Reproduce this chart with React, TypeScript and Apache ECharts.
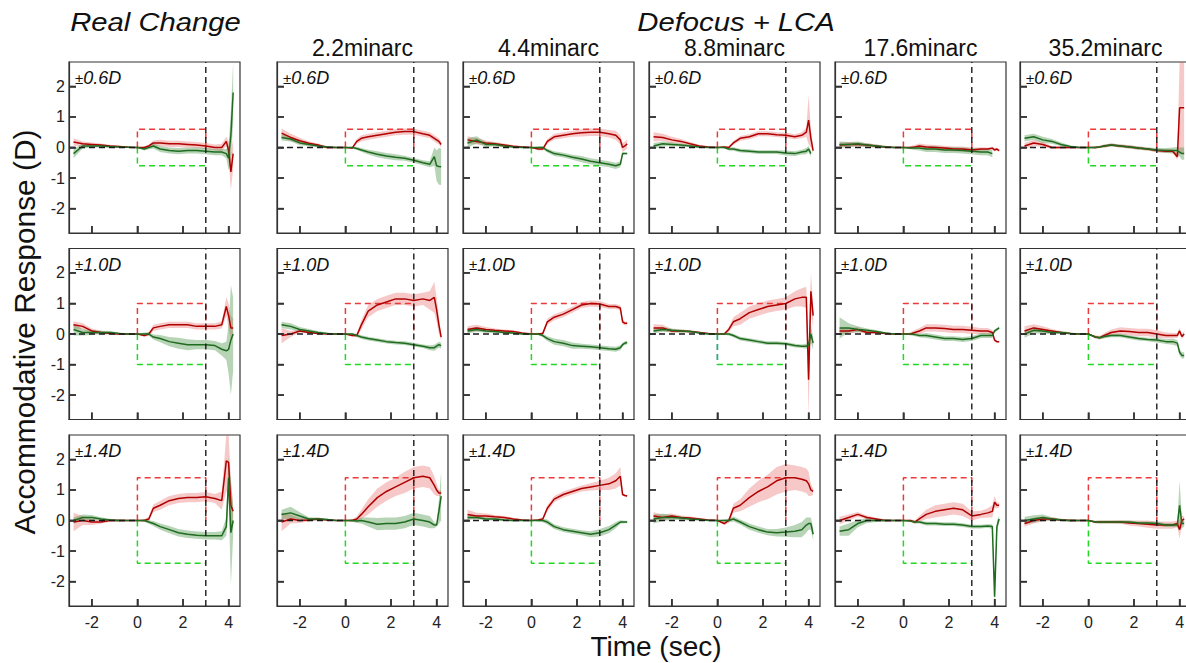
import React, { useEffect, useRef } from "react";
import * as echarts from "echarts";

// time samples (s)
const T = [-2.8, -2.4, -2.0, -1.6, -1.2, -0.8, -0.4, 0, 0.3, 0.5, 0.7, 1.0, 1.4, 1.8, 2.2, 2.6, 3.0, 3.4, 3.7, 3.9, 4.0, 4.1, 4.2];

const ROW_D = [0.6, 1.0, 1.4];
const ROW_LABELS = ["0.6D", "1.0D", "1.4D"];
const COL_TITLES = ["", "2.2minarc", "4.4minarc", "8.8minarc", "17.6minarc", "35.2minarc"];
const X_TICKS = [-2, 0, 2, 4];
const Y_TICKS = [-2, -1, 0, 1, 2];

// Row 0 (±0.6D)
const R00 = [0.18, 0.12, 0.10, 0.08, 0.05, 0.03, 0.01, 0, 0.0, 0.05, 0.15, 0.15, 0.12, 0.12, 0.10, 0.08, 0.05, 0.0, 0.0, 0.2, -0.1, -0.8, -0.2];
const R00sd = [0.12, 0.08, 0.06, 0.05, 0.04, 0.03, 0.02, 0, 0.03, 0.05, 0.08, 0.1, 0.1, 0.1, 0.1, 0.1, 0.1, 0.1, 0.12, 0.15, 0.3, 0.6, 0.5];
const G00 = [-0.2, 0.05, 0.05, 0.05, 0.03, 0.02, 0.01, 0, -0.05, 0.0, 0.05, -0.05, -0.1, -0.12, -0.1, -0.1, -0.12, -0.15, -0.15, -0.2, -0.35, 0.4, 1.8];
const G00sd = [0.15, 0.08, 0.05, 0.05, 0.04, 0.03, 0.02, 0, 0.05, 0.06, 0.08, 0.1, 0.1, 0.1, 0.1, 0.1, 0.1, 0.1, 0.1, 0.15, 0.4, 0.8, 1.0];

const R01 = [0.47, 0.33, 0.22, 0.14, 0.08, 0.0, 0.0, 0, -0.02, 0.2, 0.3, 0.35, 0.4, 0.45, 0.5, 0.52, 0.52, 0.45, 0.4, 0.3, 0.25, 0.2, 0.1];
const R01sd = [0.15, 0.12, 0.1, 0.06, 0.05, 0.04, 0.02, 0, 0.04, 0.08, 0.1, 0.1, 0.1, 0.1, 0.1, 0.1, 0.1, 0.1, 0.1, 0.1, 0.1, 0.1, 0.1];
const G01 = [0.33, 0.28, 0.15, 0.1, 0.05, 0.02, 0.0, 0, 0.0, -0.03, -0.08, -0.15, -0.22, -0.28, -0.32, -0.35, -0.42, -0.5, -0.55, -0.3, -0.6, -0.62, -0.63];
const G01sd = [0.1, 0.08, 0.08, 0.06, 0.05, 0.03, 0.02, 0, 0.03, 0.05, 0.06, 0.08, 0.1, 0.1, 0.1, 0.08, 0.08, 0.08, 0.1, 0.3, 0.5, 0.6, 0.6];

const R02 = [0.25, 0.2, 0.15, 0.12, 0.08, 0.04, 0.02, 0, -0.05, -0.05, 0.2, 0.35, 0.4, 0.45, 0.48, 0.5, 0.5, 0.45, 0.4, 0.25, 0.0, 0.05, 0.12];
const R02sd = [0.12, 0.1, 0.08, 0.06, 0.05, 0.04, 0.02, 0, 0.05, 0.05, 0.08, 0.1, 0.1, 0.1, 0.12, 0.12, 0.12, 0.12, 0.15, 0.15, 0.15, 0.15, 0.15];
const G02 = [0.15, 0.25, 0.1, 0.1, 0.05, 0.02, 0.0, 0, 0.0, 0.0, -0.1, -0.2, -0.25, -0.32, -0.38, -0.45, -0.5, -0.55, -0.6, -0.55, -0.2, -0.2, -0.2];
const G02sd = [0.15, 0.12, 0.08, 0.06, 0.05, 0.03, 0.02, 0, 0.03, 0.05, 0.06, 0.08, 0.08, 0.08, 0.1, 0.1, 0.1, 0.1, 0.1, 0.1, 0.05, 0.03, 0.03];

const R03 = [0.35, 0.33, 0.25, 0.2, 0.12, 0.05, 0.02, 0, 0.02, 0.0, 0.15, 0.3, 0.35, 0.45, 0.45, 0.42, 0.4, 0.35, 0.4, 0.5, 0.9, 0.3, -0.1];
const R03sd = [0.15, 0.12, 0.1, 0.08, 0.06, 0.04, 0.02, 0, 0.03, 0.05, 0.06, 0.08, 0.08, 0.08, 0.08, 0.08, 0.08, 0.08, 0.1, 0.15, 0.8, 0.3, 0.1];
const G03 = [0.05, 0.12, 0.1, 0.08, 0.05, 0.02, 0.0, 0, 0.0, -0.05, -0.05, -0.1, -0.12, -0.15, -0.15, -0.15, -0.18, -0.2, -0.15, -0.12, -0.05, -0.2, null];
const G03sd = [0.1, 0.08, 0.06, 0.05, 0.04, 0.03, 0.02, 0, 0.03, 0.05, 0.06, 0.06, 0.06, 0.06, 0.06, 0.06, 0.08, 0.08, 0.08, 0.1, 0.1, 0.1, null];

const R04 = [0.08, 0.1, 0.1, 0.08, 0.05, 0.02, 0.0, 0, 0.0, 0.02, 0.05, 0.02, 0.0, -0.02, -0.05, -0.05, -0.08, -0.05, -0.05, -0.02, -0.08, -0.05, -0.1];
const R04sd = [0.08, 0.08, 0.07, 0.06, 0.05, 0.04, 0.02, 0, 0.04, 0.06, 0.08, 0.08, 0.08, 0.08, 0.08, 0.08, 0.08, 0.06, 0.05, 0.05, 0.05, 0.05, 0.05];
const G04 = [0.1, 0.1, 0.12, 0.08, 0.05, 0.02, 0.0, 0, -0.02, -0.02, -0.02, -0.05, -0.05, -0.08, -0.08, -0.1, -0.12, -0.15, -0.15, -0.2, null, null, null];
const G04sd = [0.1, 0.08, 0.08, 0.06, 0.05, 0.04, 0.02, 0, 0.04, 0.06, 0.08, 0.1, 0.1, 0.1, 0.1, 0.1, 0.1, 0.1, 0.1, 0.12, null, null, null];

const R05 = [0.05, 0.15, 0.1, 0.0, 0.0, 0.0, 0.0, 0, 0.0, 0.02, 0.05, 0.08, 0.05, 0.02, -0.02, -0.05, -0.1, -0.12, -0.12, -0.3, 1.3, 1.3, 1.3];
const R05sd = [0.1, 0.1, 0.08, 0.05, 0.04, 0.03, 0.02, 0, 0.03, 0.04, 0.05, 0.05, 0.05, 0.05, 0.05, 0.05, 0.06, 0.06, 0.06, 0.1, 1.5, 1.5, 1.5];
const G05 = [0.3, 0.35, 0.25, 0.2, 0.1, 0.03, 0.0, 0, 0.0, 0.02, 0.05, 0.08, 0.05, 0.02, -0.02, -0.05, -0.08, -0.1, -0.1, -0.1, -0.15, -0.2, -0.2];
const G05sd = [0.1, 0.1, 0.1, 0.08, 0.06, 0.04, 0.02, 0, 0.03, 0.04, 0.05, 0.05, 0.05, 0.05, 0.05, 0.05, 0.06, 0.08, 0.1, 0.12, 0.15, 0.2, 0.2];

// Row 1 (±1.0D)
const R10 = [0.3, 0.25, 0.1, 0.05, 0.02, 0.0, 0.0, 0, -0.05, 0.0, 0.2, 0.25, 0.3, 0.3, 0.3, 0.25, 0.25, 0.25, 0.3, 0.9, 0.6, 0.2, 0.2];
const R10sd = [0.12, 0.1, 0.08, 0.06, 0.04, 0.03, 0.02, 0, 0.05, 0.06, 0.1, 0.1, 0.1, 0.1, 0.1, 0.1, 0.1, 0.1, 0.12, 0.3, 0.4, 0.4, 0.3];
const G10 = [0.15, 0.05, 0.05, 0.05, 0.05, 0.02, 0.0, 0, 0.0, 0.0, -0.1, -0.15, -0.25, -0.3, -0.35, -0.35, -0.35, -0.38, -0.5, -0.55, -0.5, -0.2, 0.0];
const G10sd = [0.2, 0.1, 0.08, 0.06, 0.05, 0.03, 0.02, 0, 0.05, 0.06, 0.08, 0.12, 0.15, 0.18, 0.18, 0.15, 0.15, 0.15, 0.2, 0.3, 0.8, 1.8, 1.2];

const R11 = [-0.05, 0.0, 0.1, 0.05, 0.02, 0.0, 0.0, 0, -0.05, -0.05, 0.3, 0.75, 0.95, 1.05, 1.15, 1.15, 1.1, 1.15, 1.1, 1.2, 0.8, 0.3, -0.1];
const R11sd = [0.25, 0.1, 0.05, 0.04, 0.03, 0.02, 0.02, 0, 0.04, 0.06, 0.15, 0.2, 0.2, 0.2, 0.2, 0.2, 0.2, 0.2, 0.3, 0.5, 0.4, 0.3, 0.1];
const G11 = [0.3, 0.25, 0.15, 0.1, 0.05, 0.02, 0.0, 0, 0.0, -0.05, -0.1, -0.15, -0.2, -0.25, -0.28, -0.3, -0.35, -0.4, -0.45, -0.45, -0.4, -0.35, -0.38];
const G11sd = [0.1, 0.1, 0.08, 0.06, 0.05, 0.03, 0.02, 0, 0.03, 0.05, 0.06, 0.06, 0.06, 0.06, 0.06, 0.06, 0.06, 0.06, 0.08, 0.1, 0.1, 0.1, 0.1];

const R12 = [0.15, 0.2, 0.15, 0.12, 0.1, 0.08, 0.03, 0, 0.0, 0.02, 0.4, 0.55, 0.65, 0.8, 0.95, 1.0, 0.98, 0.9, 0.9, 0.85, 0.4, 0.35, 0.35];
const R12sd = [0.1, 0.1, 0.08, 0.06, 0.05, 0.04, 0.02, 0, 0.03, 0.05, 0.1, 0.1, 0.1, 0.1, 0.1, 0.1, 0.1, 0.08, 0.08, 0.08, 0.08, 0.06, 0.06];
const G12 = [0.1, 0.15, 0.1, 0.08, 0.05, 0.03, 0.0, 0, 0.0, -0.05, -0.15, -0.25, -0.3, -0.38, -0.4, -0.42, -0.45, -0.48, -0.5, -0.45, -0.35, -0.3, -0.28];
const G12sd = [0.08, 0.08, 0.06, 0.05, 0.04, 0.03, 0.02, 0, 0.04, 0.06, 0.08, 0.1, 0.1, 0.1, 0.08, 0.08, 0.08, 0.08, 0.08, 0.08, 0.06, 0.06, 0.06];

const R13 = [0.2, 0.2, 0.1, 0.1, 0.08, 0.05, 0.02, 0, 0.0, 0.15, 0.4, 0.5, 0.7, 0.8, 0.9, 0.95, 1.0, 1.15, 1.2, 1.2, -1.5, 1.4, 0.6];
const R13sd = [0.12, 0.1, 0.06, 0.05, 0.04, 0.03, 0.02, 0, 0.04, 0.08, 0.15, 0.2, 0.2, 0.2, 0.2, 0.2, 0.2, 0.25, 0.3, 0.35, 1.2, 0.6, 0.4];
const G13 = [0.1, 0.15, 0.12, 0.1, 0.08, 0.04, 0.0, 0, 0.0, 0.0, -0.05, -0.15, -0.2, -0.25, -0.3, -0.3, -0.32, -0.38, -0.4, -0.4, -0.35, 0.0, -0.3];
const G13sd = [0.08, 0.08, 0.06, 0.05, 0.04, 0.03, 0.02, 0, 0.03, 0.05, 0.06, 0.06, 0.06, 0.06, 0.06, 0.06, 0.06, 0.06, 0.06, 0.08, 0.1, 0.3, 0.2];

const R14 = [0.1, 0.1, 0.15, 0.05, 0.05, 0.02, 0.0, 0, 0.0, 0.05, 0.1, 0.2, 0.2, 0.18, 0.15, 0.15, 0.12, 0.1, 0.1, 0.05, -0.2, -0.25, -0.25];
const R14sd = [0.1, 0.1, 0.08, 0.06, 0.05, 0.04, 0.02, 0, 0.05, 0.08, 0.1, 0.12, 0.12, 0.12, 0.12, 0.12, 0.12, 0.1, 0.1, 0.08, 0.05, 0.03, 0.03];
const G14 = [0.2, 0.2, 0.15, 0.12, 0.08, 0.03, 0.0, 0, 0.0, -0.02, -0.05, -0.05, -0.1, -0.15, -0.15, -0.18, -0.15, -0.05, -0.05, -0.05, 0.1, 0.15, 0.2];
const G14sd = [0.35, 0.15, 0.1, 0.06, 0.05, 0.03, 0.02, 0, 0.03, 0.05, 0.06, 0.08, 0.08, 0.08, 0.08, 0.08, 0.08, 0.08, 0.08, 0.08, 0.05, 0.05, 0.05];

const R15 = [0.1, 0.2, 0.15, 0.1, 0.05, 0.02, 0.0, 0, -0.1, -0.12, -0.05, 0.05, 0.1, 0.08, 0.05, 0.05, 0.0, -0.05, -0.05, -0.05, 0.1, -0.08, 0.0];
const R15sd = [0.15, 0.12, 0.1, 0.06, 0.05, 0.03, 0.02, 0, 0.05, 0.06, 0.08, 0.1, 0.12, 0.12, 0.12, 0.12, 0.12, 0.1, 0.08, 0.08, 0.1, 0.08, 0.08];
const G15 = [0.0, 0.12, 0.1, 0.05, 0.05, 0.02, 0.0, 0, -0.1, -0.12, -0.08, -0.05, -0.05, -0.1, -0.15, -0.18, -0.2, -0.25, -0.25, -0.3, -0.6, -0.7, -0.7];
const G15sd = [0.12, 0.1, 0.08, 0.06, 0.05, 0.03, 0.02, 0, 0.04, 0.05, 0.06, 0.06, 0.06, 0.06, 0.06, 0.06, 0.08, 0.08, 0.1, 0.1, 0.1, 0.1, 0.1];

// Row 2 (±1.4D)
const R20 = [-0.05, 0.0, -0.05, -0.05, 0.0, 0.0, 0.0, 0, 0.0, 0.05, 0.4, 0.5, 0.65, 0.72, 0.75, 0.75, 0.78, 0.72, 0.65, 1.95, 1.9, 0.5, 0.3];
const R20sd = [0.3, 0.15, 0.1, 0.06, 0.04, 0.03, 0.02, 0, 0.04, 0.08, 0.12, 0.15, 0.15, 0.15, 0.15, 0.15, 0.15, 0.15, 0.3, 1.0, 1.0, 0.8, 0.2];
const G20 = [0.0, 0.1, 0.1, 0.05, 0.02, 0.0, 0.0, 0, 0.0, -0.05, -0.1, -0.2, -0.3, -0.4, -0.45, -0.48, -0.5, -0.5, -0.5, -0.2, 1.4, -0.4, 0.0];
const G20sd = [0.1, 0.1, 0.08, 0.06, 0.04, 0.03, 0.02, 0, 0.04, 0.06, 0.08, 0.1, 0.12, 0.12, 0.12, 0.12, 0.12, 0.12, 0.15, 0.3, 0.7, 1.7, 0.5];

const R21 = [-0.05, 0.05, 0.0, 0.02, 0.05, 0.02, 0.0, 0, 0.0, 0.05, 0.2, 0.45, 0.75, 0.95, 1.1, 1.25, 1.4, 1.45, 1.4, 1.15, 1.0, 0.9, 0.9];
const R21sd = [0.3, 0.15, 0.08, 0.05, 0.04, 0.03, 0.02, 0, 0.04, 0.08, 0.15, 0.25, 0.3, 0.3, 0.3, 0.35, 0.35, 0.35, 0.35, 0.3, 0.2, 0.1, 0.08];
const G21 = [0.2, 0.25, 0.15, 0.05, 0.05, 0.03, 0.0, 0, 0.0, -0.02, 0.0, -0.05, -0.12, -0.1, -0.1, -0.05, 0.05, 0.0, -0.05, -0.15, -0.15, 0.3, 0.8];
const G21sd = [0.15, 0.2, 0.12, 0.06, 0.05, 0.03, 0.02, 0, 0.04, 0.06, 0.1, 0.15, 0.2, 0.2, 0.2, 0.2, 0.2, 0.2, 0.2, 0.1, 0.05, 0.4, 0.8];

const R22 = [0.2, 0.15, 0.15, 0.12, 0.1, 0.05, 0.02, 0, 0.02, 0.05, 0.4, 0.7, 0.85, 0.95, 1.05, 1.1, 1.15, 1.2, 1.3, 1.45, 0.85, 0.82, 0.8];
const R22sd = [0.15, 0.1, 0.08, 0.06, 0.05, 0.04, 0.02, 0, 0.04, 0.06, 0.1, 0.1, 0.1, 0.1, 0.1, 0.12, 0.15, 0.2, 0.25, 0.3, 0.05, 0.03, 0.03];
const G22 = [0.1, 0.1, 0.05, 0.05, 0.02, 0.0, 0.0, 0, 0.0, 0.0, -0.05, -0.2, -0.3, -0.35, -0.4, -0.45, -0.4, -0.3, -0.15, -0.05, -0.05, -0.05, -0.05];
const G22sd = [0.08, 0.06, 0.05, 0.05, 0.04, 0.03, 0.02, 0, 0.04, 0.06, 0.08, 0.08, 0.08, 0.08, 0.08, 0.1, 0.12, 0.12, 0.1, 0.06, 0.05, 0.04, 0.04];

const R23 = [0.15, 0.1, 0.15, 0.1, 0.08, 0.05, 0.02, 0, -0.1, 0.0, 0.4, 0.5, 0.75, 0.95, 1.1, 1.3, 1.4, 1.4, 1.35, 1.3, 1.2, 1.0, 0.95];
const R23sd = [0.12, 0.1, 0.08, 0.06, 0.05, 0.04, 0.02, 0, 0.05, 0.08, 0.15, 0.2, 0.3, 0.35, 0.4, 0.45, 0.45, 0.4, 0.4, 0.4, 0.4, 0.2, 0.1];
const G23 = [0.05, 0.1, 0.1, 0.08, 0.05, 0.03, 0.0, 0, 0.0, 0.0, 0.05, -0.05, -0.2, -0.3, -0.38, -0.4, -0.38, -0.35, -0.3, -0.15, -0.1, -0.1, -0.45];
const G23sd = [0.15, 0.12, 0.08, 0.06, 0.05, 0.03, 0.02, 0, 0.04, 0.06, 0.08, 0.08, 0.1, 0.1, 0.1, 0.12, 0.15, 0.2, 0.25, 0.25, 0.2, 0.2, 0.2];

const R24 = [0.0, 0.1, 0.2, 0.1, 0.05, 0.0, 0.0, 0, 0.0, -0.05, 0.05, 0.2, 0.3, 0.35, 0.4, 0.35, 0.15, 0.2, 0.25, 0.3, 0.6, 0.5, 0.5];
const R24sd = [0.12, 0.1, 0.08, 0.06, 0.05, 0.04, 0.02, 0, 0.04, 0.06, 0.1, 0.15, 0.2, 0.2, 0.2, 0.2, 0.15, 0.12, 0.15, 0.2, 0.2, 0.1, 0.08];
const G24 = [-0.35, -0.3, -0.1, 0.0, 0.0, 0.0, 0.0, 0, -0.02, -0.05, -0.05, -0.1, -0.1, -0.12, -0.12, -0.15, -0.2, -0.2, -0.18, -0.2, -2.5, -0.2, 0.05];
const G24sd = [0.15, 0.2, 0.12, 0.08, 0.05, 0.03, 0.02, 0, 0.03, 0.05, 0.05, 0.06, 0.06, 0.06, 0.06, 0.06, 0.06, 0.06, 0.06, 0.08, 0.3, 0.2, 0.1];

const R25 = [-0.1, 0.0, 0.05, 0.05, 0.02, 0.0, 0.0, 0, -0.05, -0.05, -0.05, -0.05, -0.05, -0.08, -0.1, -0.12, -0.15, -0.15, -0.15, -0.1, -0.3, 0.0, 0.05];
const R25sd = [0.1, 0.1, 0.08, 0.06, 0.04, 0.03, 0.02, 0, 0.04, 0.05, 0.05, 0.05, 0.06, 0.08, 0.1, 0.12, 0.12, 0.12, 0.12, 0.1, 0.3, 0.15, 0.1];
const G25 = [0.0, 0.05, 0.1, 0.05, 0.02, 0.0, 0.0, 0, -0.05, -0.05, -0.05, -0.05, -0.05, -0.05, -0.08, -0.08, -0.1, -0.15, -0.15, -0.15, 0.5, -0.1, -0.1];
const G25sd = [0.12, 0.12, 0.1, 0.06, 0.04, 0.03, 0.02, 0, 0.04, 0.05, 0.05, 0.05, 0.05, 0.05, 0.05, 0.05, 0.06, 0.06, 0.06, 0.08, 0.8, 0.15, 0.1];

const PANELS = [
  [[R00, R00sd, G00, G00sd], [R01, R01sd, G01, G01sd], [R02, R02sd, G02, G02sd], [R03, R03sd, G03, G03sd], [R04, R04sd, G04, G04sd], [R05, R05sd, G05, G05sd]],
  [[R10, R10sd, G10, G10sd], [R11, R11sd, G11, G11sd], [R12, R12sd, G12, G12sd], [R13, R13sd, G13, G13sd], [R14, R14sd, G14, G14sd], [R15, R15sd, G15, G15sd]],
  [[R20, R20sd, G20, G20sd], [R21, R21sd, G21, G21sd], [R22, R22sd, G22, G22sd], [R23, R23sd, G23, G23sd], [R24, R24sd, G24, G24sd], [R25, R25sd, G25, G25sd]],
];

// panel whose lower box has a blue left edge
const BLUE_EDGE_PANEL = [1, 3];

// layout
const COL_LEFT = [69, 277, 463, 649, 835, 1020];
const ROW_TOP = [62, 248.5, 435];
const PW = 171;
const PH = 171;
const X_MIN = -3;
const X_MAX = 4.5;
const Y_MIN = -2.8;
const Y_MAX = 2.8;
const TICK_PX = 7;
const FONT = "'Liberation Sans', Arial, Helvetica, sans-serif";

const RED_LINE = "#b00000";
const GREEN_LINE = "#1f6b1f";
const RED_BAND = "rgba(230,95,95,0.34)";
const GREEN_BAND = "rgba(55,135,55,0.36)";
const RED_BOX = "#ec3a3a";
const GREEN_BOX = "#22d822";
const FRAME = "#333";

const clampY = (v: number) => Math.max(Y_MIN, Math.min(Y_MAX, v));

function bandSeries(i: number, mean: (number | null)[], sd: (number | null)[], color: string) {
  return {
    type: "custom",
    xAxisIndex: i,
    yAxisIndex: i,
    silent: true,
    clip: true,
    z: 1,
    data: [[0, 0]],
    renderItem: (_params: any, api: any) => {
      const upper: number[][] = [];
      const lower: number[][] = [];
      for (let k = 0; k < T.length; k++) {
        const m = mean[k];
        const s = sd[k];
        if (m == null || s == null) continue;
        upper.push(api.coord([T[k], clampY(m + s)]));
        lower.push(api.coord([T[k], clampY(m - s)]));
      }
      return {
        type: "polygon",
        shape: { points: upper.concat(lower.reverse()) },
        style: { fill: color, stroke: "none" },
      };
    },
  };
}

// inward tick marks on the left and bottom edges, placed through the axes' scales
function tickSeries(i: number) {
  return {
    type: "custom",
    xAxisIndex: i,
    yAxisIndex: i,
    silent: true,
    clip: false,
    z: 5,
    data: [[0, 0]],
    renderItem: (_params: any, api: any) => {
      const children: any[] = [];
      for (const v of Y_TICKS) {
        const p = api.coord([X_MIN, v]);
        children.push({ type: "line", shape: { x1: p[0], y1: p[1], x2: p[0] + TICK_PX, y2: p[1] }, style: { stroke: FRAME, lineWidth: 1.5 } });
      }
      for (const v of X_TICKS) {
        const p = api.coord([v, Y_MIN]);
        children.push({ type: "line", shape: { x1: p[0], y1: p[1], x2: p[0], y2: p[1] - TICK_PX }, style: { stroke: FRAME, lineWidth: 1.5 } });
      }
      return { type: "group", children };
    },
  };
}

function lineSeries(i: number, data: any[], color: string, width: number, dashed: boolean, z: number) {
  return {
    type: "line",
    xAxisIndex: i,
    yAxisIndex: i,
    data,
    symbol: "none",
    silent: true,
    z,
    lineStyle: { color, width, type: dashed ? [6, 4] : "solid" },
  };
}

function buildOption() {
  const grid: any[] = [];
  const xAxis: any[] = [];
  const yAxis: any[] = [];
  const series: any[] = [];
  const graphic: any[] = [];

  for (let r = 0; r < 3; r++) {
    for (let c = 0; c < 6; c++) {
      const i = r * 6 + c;
      const [R, Rs, G, Gs] = PANELS[r][c] as any[];
      const D = ROW_D[r];
      grid.push({
        left: COL_LEFT[c],
        top: ROW_TOP[r],
        width: PW,
        height: PH,
        show: true,
        borderColor: FRAME,
        borderWidth: 1.2,
        backgroundColor: "rgba(0,0,0,0)",
        containLabel: false,
        outerBoundsMode: "none",
      });
      xAxis.push({
        gridIndex: i,
        type: "value",
        position: "bottom",
        min: X_MIN,
        max: X_MAX,
        axisLine: { show: true, onZero: false, lineStyle: { color: FRAME, width: 1.2 } },
        splitLine: { show: false },
        axisTick: { show: true, inside: true, length: TICK_PX, lineStyle: { color: FRAME, width: 1.5 }, customValues: X_TICKS },
        axisLabel: { show: r === 2, customValues: X_TICKS, color: "#222", fontSize: 16, fontFamily: FONT, margin: 8 },
      });
      yAxis.push({
        gridIndex: i,
        type: "value",
        position: "left",
        min: Y_MIN,
        max: Y_MAX,
        axisLine: { show: true, onZero: false, lineStyle: { color: FRAME, width: 1.2 } },
        splitLine: { show: false },
        axisTick: { show: true, inside: true, length: TICK_PX, lineStyle: { color: FRAME, width: 1.5 }, customValues: Y_TICKS },
        axisLabel: { show: c === 0, customValues: Y_TICKS, color: "#222", fontSize: 16, fontFamily: FONT, margin: 4 },
      });

      series.push(bandSeries(i, R, Rs, RED_BAND));
      series.push(bandSeries(i, G, Gs, GREEN_BAND));
      series.push(lineSeries(i, [[0, 0], [0, D], [3, D], [3, 0]], RED_BOX, 1.5, true, 2));
      series.push(lineSeries(i, [[0, 0], [0, -D], [3, -D]], GREEN_BOX, 1.5, true, 2));
      if (BLUE_EDGE_PANEL[0] === r && BLUE_EDGE_PANEL[1] === c) {
        series.push(lineSeries(i, [[0, 0], [0, -D]], "#4a8fd0", 1.5, true, 2));
      }
      series.push(lineSeries(i, T.map((t, k) => [t, R[k]]), RED_LINE, 1.5, false, 3));
      series.push(lineSeries(i, T.map((t, k) => [t, G[k]]), GREEN_LINE, 1.5, false, 3));
      series.push(lineSeries(i, [[X_MIN, 0], [0, 0]], "#1a1a1a", 1.7, true, 4));
      series.push(lineSeries(i, [[3, Y_MIN], [3, Y_MAX]], "#1a1a1a", 1.4, true, 4));
      series.push(tickSeries(i));

      graphic.push({
        type: "text",
        x: COL_LEFT[c] + 6,
        y: ROW_TOP[r] + 16,
        z: 10,
        silent: true,
        style: {
          text: "{pm|±}{v|" + ROW_LABELS[r] + "}",
          rich: {
            pm: { fontSize: 15, fontFamily: FONT, fill: "#111", color: "#111" },
            v: { fontSize: 18, fontStyle: "italic", fontFamily: FONT, fill: "#111", color: "#111" },
          },
          fill: "#111",
          align: "left",
          textAlign: "left",
          verticalAlign: "middle",
          textVerticalAlign: "middle",
        },
      });
    }
  }

  const textEl = (text: string, x: number, y: number, size: number, italic: boolean, extra: any = {}) => ({
    type: "text",
    x,
    y,
    z: 10,
    silent: true,
    ...extra,
    style: {
      text,
      fontSize: size,
      fontFamily: FONT,
      fontStyle: italic ? "italic" : "normal",
      fill: "#111",
      align: "center",
      textAlign: "center",
      verticalAlign: "middle",
      textVerticalAlign: "middle",
    },
  });

  graphic.push(textEl("Real Change", 155.5, 22, 25, true, { scaleX: 1.17 }));
  graphic.push(textEl("Defocus + LCA", 736, 22, 25, true, { scaleX: 1.17 }));
  for (let c = 1; c < 6; c++) {
    graphic.push(textEl(COL_TITLES[c], COL_LEFT[c] + PW / 2, 48, 23, false));
  }
  graphic.push(textEl("Accommodative Response (D)", 25, 332, 29, false, { rotation: Math.PI / 2, scaleX: 1.03 }));
  graphic.push(textEl("Time (sec)", 656, 646, 28, false));

  return {
    animation: false,
    backgroundColor: "#ffffff",
    grid,
    xAxis,
    yAxis,
    series,
    graphic,
  };
}

export default function App() {
  const ref = useRef<HTMLDivElement>(null);
  useEffect(() => {
    document.body.style.margin = "0";
    const chart = echarts.init(ref.current as HTMLDivElement, null, { renderer: "svg" });
    chart.setOption(buildOption() as any);
    return () => chart.dispose();
  }, []);
  return <div ref={ref} style={{ width: 1186, height: 663 }} />;
}
